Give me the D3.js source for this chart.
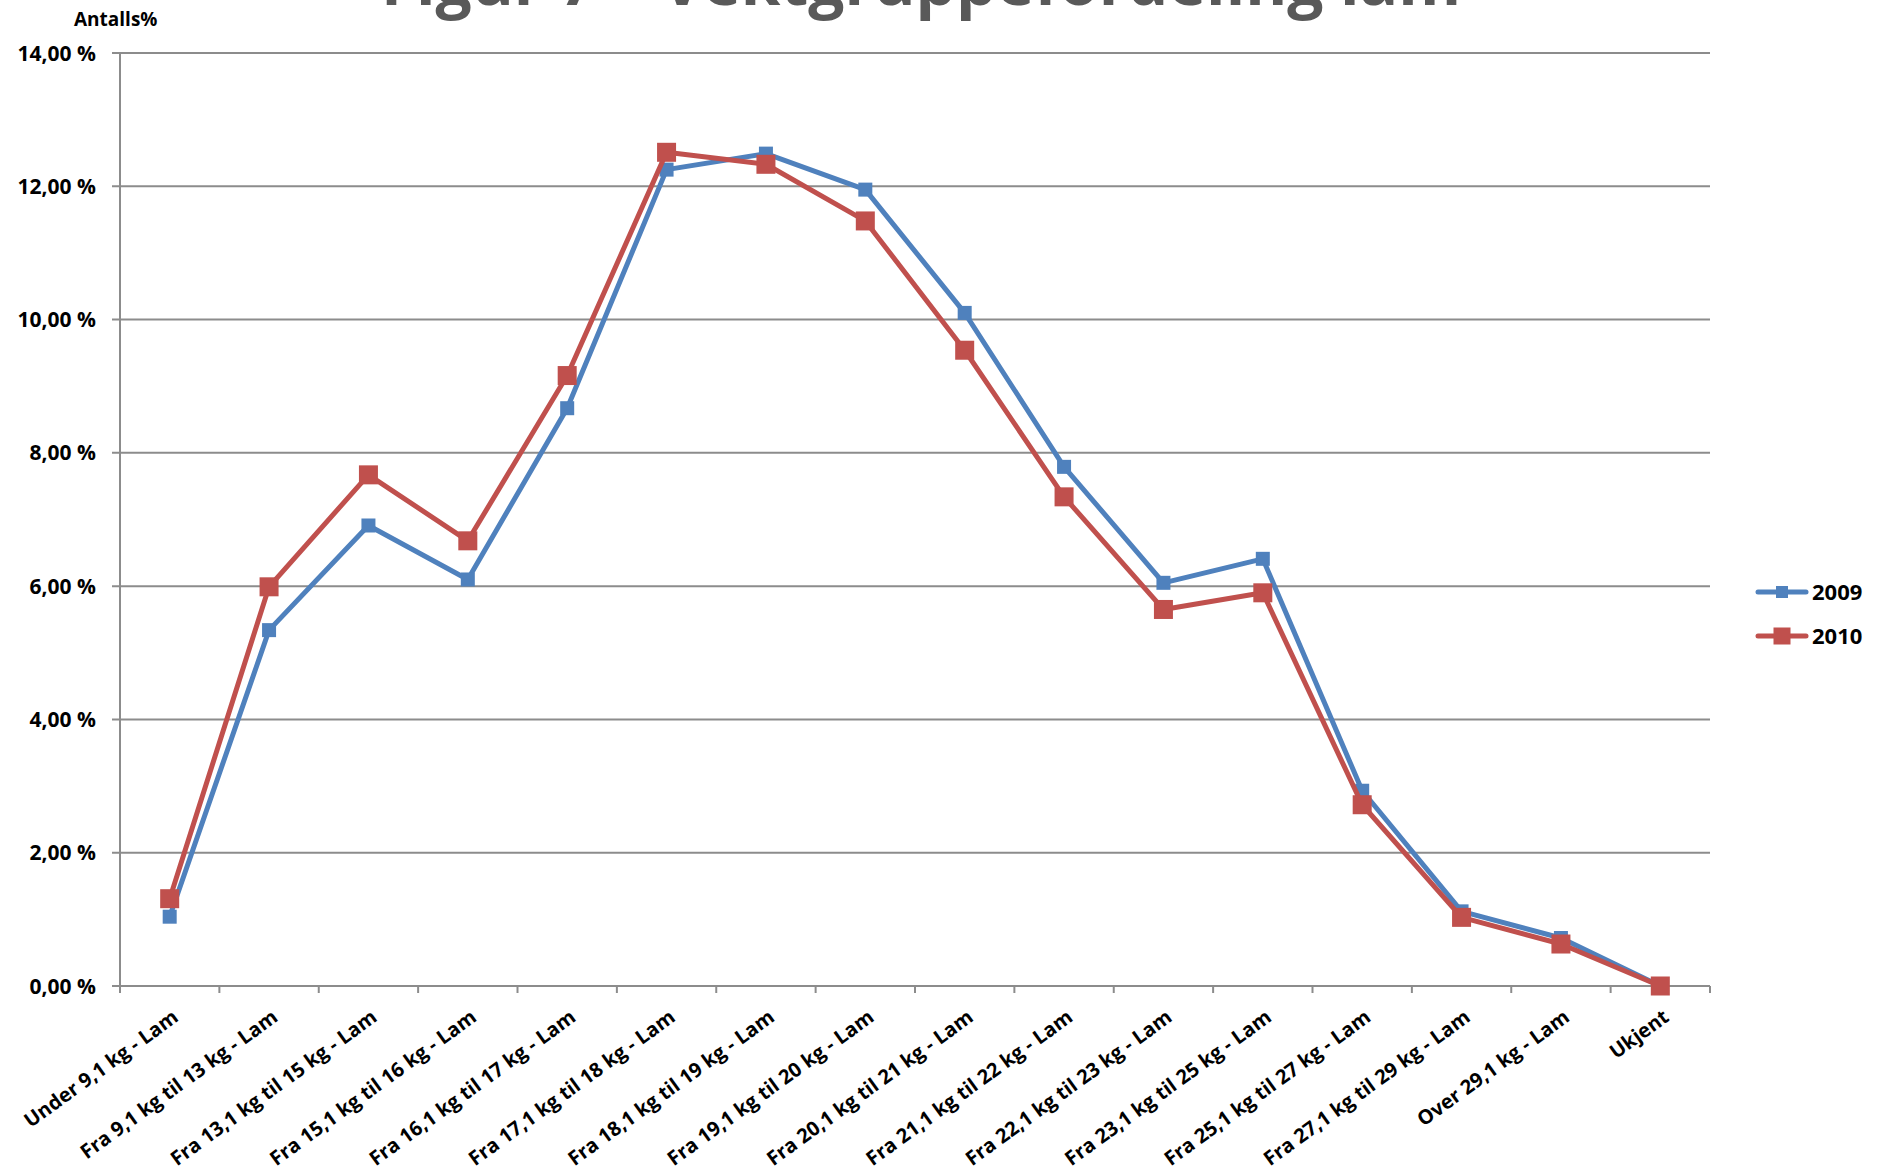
<!DOCTYPE html>
<html>
<head>
<meta charset="utf-8">
<script src="https://cdn.jsdelivr.net/npm/d3@7"></script>
<style>
  body { margin: 0; background: #fff; }
  text { font-family: 'Open Sans', 'DejaVu Sans', sans-serif; font-weight: bold; }
</style>
</head>
<body>
<div id="viz"></div>
<script>
var categories = [
  'Under 9,1 kg - Lam',
  'Fra 9,1 kg til 13 kg - Lam',
  'Fra 13,1 kg til 15 kg - Lam',
  'Fra 15,1 kg til 16 kg - Lam',
  'Fra 16,1 kg til 17 kg - Lam',
  'Fra 17,1 kg til 18 kg - Lam',
  'Fra 18,1 kg til 19 kg - Lam',
  'Fra 19,1 kg til 20 kg - Lam',
  'Fra 20,1 kg til 21 kg - Lam',
  'Fra 21,1 kg til 22 kg - Lam',
  'Fra 22,1 kg til 23 kg - Lam',
  'Fra 23,1 kg til 25 kg - Lam',
  'Fra 25,1 kg til 27 kg - Lam',
  'Fra 27,1 kg til 29 kg - Lam',
  'Over 29,1 kg - Lam',
  'Ukjent'
];

var values2009 = [1.04, 5.34, 6.91, 6.10, 8.67, 12.25, 12.49, 11.95, 10.10, 7.79, 6.05, 6.41, 2.93, 1.12, 0.72, 0.00];
var values2010 = [1.31, 5.99, 7.67, 6.68, 9.16, 12.51, 12.33, 11.48, 9.54, 7.34, 5.65, 5.90, 2.72, 1.03, 0.63, 0.00];

var yTicks = [0, 2, 4, 6, 8, 10, 12, 14];
var seriesNames = ['2009', '2010'];

var title = 'Figur 7 – Vektgruppefordeling lam';
var yTitle = 'Antalls%';

var width = 1881,
  height = 1175,
  margin = {
    top: 53,
    right: 171,
    bottom: 189,
    left: 120
  };

var series = [
  { name: seriesNames[0], values: values2009, color: '#4F81BD', size: 14 },
  { name: seriesNames[1], values: values2010, color: '#C0504D', size: 19 }
];

var svg = d3.select('#viz').append('svg')
  .attr('width', width)
  .attr('height', height);

var xScale = d3.scaleBand()
  .domain(categories)
  .range([margin.left, width - margin.right])
  .padding(0);

var yScale = d3.scaleLinear()
  .domain([0, 14])
  .range([height - margin.bottom, margin.top]);

function fmt(v) {
  return v.toFixed(2).replace('.', ',') + ' %';
}

// gridlines
svg.append('g')
  .selectAll('line').data(yTicks)
  .enter().append('line')
  .attr('x1', margin.left - 8)
  .attr('x2', width - margin.right)
  .attr('y1', function(d) { return yScale(d); })
  .attr('y2', function(d) { return yScale(d); })
  .attr('stroke', '#8c8c8c')
  .attr('stroke-width', 2);

// y labels
svg.append('g')
  .selectAll('text').data(yTicks)
  .enter().append('text')
  .attr('x', 96)
  .attr('y', function(d) { return yScale(d); })
  .attr('dy', '0.36em')
  .attr('text-anchor', 'end')
  .style('font-size', '21px')
  .text(fmt);

// y axis line
svg.append('line')
  .attr('x1', margin.left).attr('x2', margin.left)
  .attr('y1', yScale(14)).attr('y2', yScale(0))
  .attr('stroke', '#8c8c8c')
  .attr('stroke-width', 2);

// x ticks between categories
var tickPos = categories.map(function(c) { return xScale(c); });
tickPos.push(xScale.range()[1]);

svg.append('g')
  .selectAll('line').data(tickPos)
  .enter().append('line')
  .attr('x1', function(d) { return d; })
  .attr('x2', function(d) { return d; })
  .attr('y1', yScale(0))
  .attr('y2', yScale(0) + 7)
  .attr('stroke', '#8c8c8c')
  .attr('stroke-width', 2);

// x labels
svg.append('g')
  .selectAll('text').data(categories)
  .enter().append('text')
  .attr('text-anchor', 'end')
  .style('font-size', '20px')
  .attr('transform', function(d) {
    var cx = xScale(d) + xScale.bandwidth() / 2 + 10;
    return 'translate(' + cx + ',' + (yScale(0) + 34) + ') rotate(-36)';
  })
  .text(function(d) { return d; });

// lines + markers
var line = d3.line()
  .x(function(d, i) { return xScale(categories[i]) + xScale.bandwidth() / 2; })
  .y(function(d) { return yScale(d); });

series.forEach(function(s) {
  svg.append('path')
    .datum(s.values)
    .attr('fill', 'none')
    .attr('stroke', s.color)
    .attr('stroke-width', 5)
    .attr('stroke-linejoin', 'round')
    .attr('d', line);

  svg.append('g')
    .selectAll('rect').data(s.values)
    .enter().append('rect')
    .attr('x', function(d, i) { return xScale(categories[i]) + xScale.bandwidth() / 2 - s.size / 2; })
    .attr('y', function(d) { return yScale(d) - s.size / 2; })
    .attr('width', s.size)
    .attr('height', s.size)
    .attr('fill', s.color);
});

// legend
var legend = svg.append('g')
  .selectAll('g').data(series)
  .enter().append('g')
  .attr('transform', function(d, i) { return 'translate(1758,' + (592 + i * 44) + ')'; });

legend.append('line')
  .attr('x1', 0).attr('x2', 48)
  .attr('stroke', function(d) { return d.color; })
  .attr('stroke-width', 5)
  .attr('stroke-linecap', 'round');

legend.append('rect')
  .attr('x', function(d) { return 24 - (d.size - 2) / 2; })
  .attr('y', function(d) { return -(d.size - 2) / 2; })
  .attr('width', function(d) { return d.size - 2; })
  .attr('height', function(d) { return d.size - 2; })
  .attr('fill', function(d) { return d.color; });

legend.append('text')
  .attr('x', 54)
  .attr('dy', '0.36em')
  .style('font-size', '22px')
  .text(function(d) { return d.name; });

// titles (main title is cut by the top edge, as in the source)
svg.append('text')
  .attr('x', 74)
  .attr('y', 26)
  .style('font-size', '19px')
  .text(yTitle);

svg.append('text')
  .attr('x', 921)
  .attr('y', 5)
  .attr('text-anchor', 'middle')
  .attr('fill', '#595959')
  .style('font-size', '64px')
  .text(title);
</script>
</body>
</html>
